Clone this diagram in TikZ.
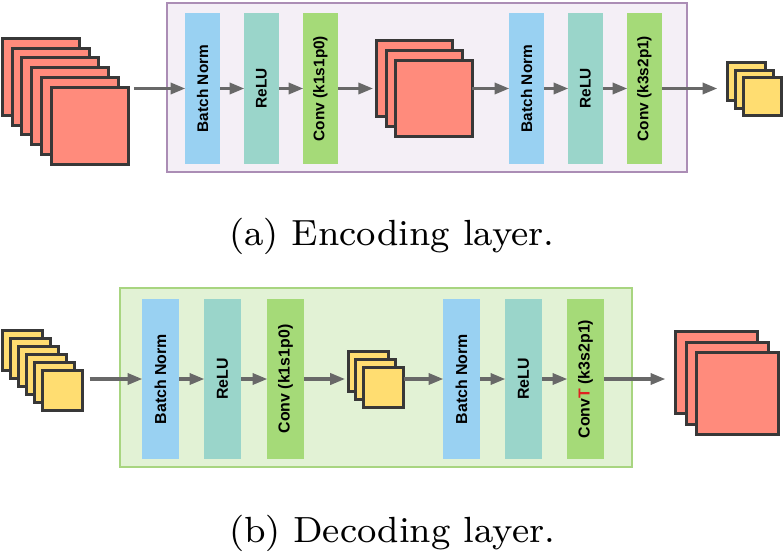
\documentclass[tikz,border=0pt]{standalone}
\usepackage{fontspec}
\usepackage{graphicx}
\setsansfont{Liberation Sans}
\usetikzlibrary{arrows.meta,calc}
\definecolor{sqred}{HTML}{FF8B7C}
\definecolor{sqyel}{HTML}{FFDD71}
\definecolor{sqedge}{HTML}{383838}
\definecolor{bnblue}{HTML}{99D1F2}
\definecolor{reluteal}{HTML}{9AD5CA}
\definecolor{convgreen}{HTML}{A5DA78}
\definecolor{arrgrey}{HTML}{686868}
\definecolor{encfill}{HTML}{F4EFF6}
\definecolor{encdraw}{HTML}{AB8DB5}
\definecolor{decfill}{HTML}{E2F2D5}
\definecolor{decdraw}{HTML}{A8D580}
\definecolor{tred}{HTML}{E02020}
\begin{document}
\begin{tikzpicture}[x=1pt,y=-1pt,
  sqr/.style={draw=sqedge, line width=3pt, minimum size=#1, inner sep=0pt, outer sep=0pt},
  redsq/.style={sqr=#1, fill=sqred},
  yelsq/.style={sqr=#1, fill=sqyel},
  blk/.style={rotate=90, inner sep=0pt, outer sep=0pt, font=\sffamily\bfseries\fontsize{15.4}{18}\selectfont, text=black},
  blkb/.style={blk, font=\sffamily\bfseries\fontsize{15.9}{18}\selectfont},
  arr/.style={draw=arrgrey, line width=3.5pt, -{Triangle[length=15pt,width=11pt]}, shorten >=-0.5pt},
  encframe/.style={draw=encdraw, fill=encfill, line width=2pt, inner sep=0pt},
  decframe/.style={draw=decdraw, fill=decfill, line width=2pt, inner sep=0pt},
  caption/.style={anchor=base, inner sep=0pt}
]
\useasboundingbox (0,0) rectangle (784,557);

% ---------------- Encoding layer ----------------
\node[encframe, minimum width=520, minimum height=169] (encf) at (427,87.5) {};

\foreach \i in {0,...,5}
  \node[redsq=77] (a\i) at ({40.7+9.85*\i},{76.7+9.85*\i}) {};

\node[blk, fill=bnblue,    minimum width=151, minimum height=35] (bn1)   at (202.5,88.5) {Batch Norm};
\node[blk, fill=reluteal,  minimum width=151, minimum height=35] (relu1) at (261.5,88.5) {ReLU};
\node[blk, fill=convgreen, minimum width=151, minimum height=35] (conv1) at (320.5,88.5) {Conv (k1s1p0)};

\foreach \i in {0,1,2}
  \node[redsq=76.5] (m\i) at ({414.5+9.75*\i},{78.5+10*\i}) {};

\node[blk, fill=bnblue,    minimum width=151, minimum height=35] (bn2)   at (526.5,88.5) {Batch Norm};
\node[blk, fill=reluteal,  minimum width=151, minimum height=35] (relu2) at (585.5,88.5) {ReLU};
\node[blk, fill=convgreen, minimum width=151, minimum height=35] (conv2) at (644.5,88.5) {Conv (k3s2p1)};

\foreach \i in {0,1,2}
  \node[yelsq=38] (o\i) at ({746.5+8*\i},{81.5+7.5*\i}) {};

\draw[arr] ($(a5.east |- bn1)+(5.5,0)$) -- (bn1);
\draw[arr] (bn1) -- (relu1);
\draw[arr] (relu1) -- (conv1);
\draw[arr] (conv1) -- ($(m0.west |- conv1)+(-3.5,0)$);
\draw[arr] (m2.east |- bn2) -- (bn2);
\draw[arr] (bn2) -- (relu2);
\draw[arr] (relu2) -- (conv2);
\draw[arr] (conv2) -- ($(o0.west |- conv2)+(-10.5,0)$);

\node[caption] (capa) at (392,245.7) {\scalebox{4.55}{\fontsize{8}{10}\selectfont (a) Encoding layer.}};

% ---------------- Decoding layer ----------------
\node[decframe, minimum width=512, minimum height=179] (decf) at (376,377.5) {};

\foreach \i in {0,...,5}
  \node[yelsq=40] (b\i) at ({22.5+7.94*\i},{350.8+8*\i}) {};

\node[blkb, fill=bnblue,    minimum width=160, minimum height=37] (dbn1)   at (160.5,379) {Batch Norm};
\node[blkb, fill=reluteal,  minimum width=160, minimum height=37] (drelu1) at (222.5,379) {ReLU};
\node[blkb, fill=convgreen, minimum width=160, minimum height=37] (dconv1) at (285.5,379) {Conv (k1s1p0)};

\foreach \i in {0,1,2}
  \node[yelsq=40] (n\i) at ({368.2+7.65*\i},{371.5+8*\i}) {};

\node[blkb, fill=bnblue,    minimum width=160, minimum height=37] (dbn2)   at (461.5,379) {Batch Norm};
\node[blkb, fill=reluteal,  minimum width=160, minimum height=37] (drelu2) at (523.5,379) {ReLU};
\node[blkb, fill=convgreen, minimum width=160, minimum height=37] (dconv2) at (585.5,379) {Conv{\color{tred}T} (k3s2p1)};

\foreach \i in {0,1,2}
  \node[redsq=82] (r\i) at ({716.5+10.5*\i},{372.5+10.5*\i}) {};

\draw[arr] ($(b5.east |- dbn1)+(7.5,0)$) -- (dbn1);
\draw[arr] (dbn1) -- (drelu1);
\draw[arr] (drelu1) -- (dconv1);
\draw[arr] (dconv1) -- ($(n0.west |- dconv1)+(-3.5,0)$);
\draw[arr] (n2.east |- dbn2) -- (dbn2);
\draw[arr] (dbn2) -- (drelu2);
\draw[arr] (drelu2) -- (dconv2);
\draw[arr] (dconv2) -- ($(r0.west |- dconv2)+(-10.5,0)$);

\node[caption] (capb) at (392,542) {\scalebox{4.55}{\fontsize{8}{10}\selectfont (b) Decoding layer.}};
\end{tikzpicture}
\end{document}
